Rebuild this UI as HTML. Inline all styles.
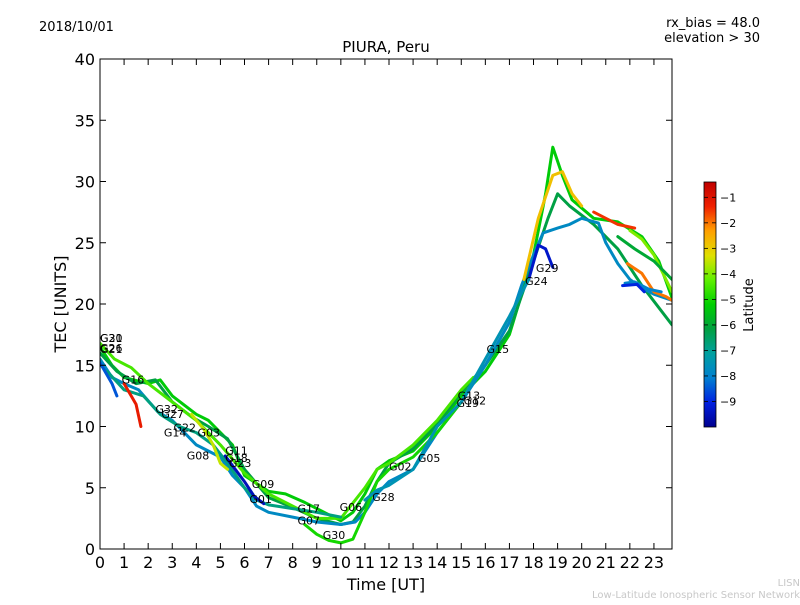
<!DOCTYPE html>
<html><head><meta charset="utf-8">
<style>
body{margin:0;background:#fff;font-family:"Liberation Sans","DejaVu Sans",sans-serif;}
svg text{font-family:"DejaVu Sans","Liberation Sans",sans-serif;}
</style></head>
<body>
<svg id="chart" width="800" height="600" xmlns="http://www.w3.org/2000/svg">
<defs>
<linearGradient id="cmap" x1="0" y1="1" x2="0" y2="0">
<stop offset="0" stop-color="#00008f"/>
<stop offset="0.1" stop-color="#0020e0"/>
<stop offset="0.2" stop-color="#0080d0"/>
<stop offset="0.3" stop-color="#00a0a0"/>
<stop offset="0.4" stop-color="#00a040"/>
<stop offset="0.5" stop-color="#00d000"/>
<stop offset="0.6" stop-color="#60f000"/>
<stop offset="0.7" stop-color="#e0e000"/>
<stop offset="0.8" stop-color="#ffa000"/>
<stop offset="0.9" stop-color="#f02000"/>
<stop offset="1" stop-color="#c00000"/>
</linearGradient>
<clipPath id="plotclip"><rect x="100" y="59" width="572" height="490"/></clipPath>
</defs>
<text x="39" y="31" font-size="13">2018/10/01</text>
<text x="760" y="27" font-size="13" text-anchor="end">rx_bias = 48.0</text>
<text x="760" y="42" font-size="13" text-anchor="end">elevation &gt; 30</text>
<text x="386" y="52" font-size="15" text-anchor="middle">PIURA, Peru</text>
<rect x="100" y="59" width="572" height="490" fill="#fff"/>
<g id="tracks" clip-path="url(#plotclip)"></g>
<g id="labels"></g>
<rect x="100" y="59" width="572" height="490" fill="none" stroke="#000" stroke-width="1"/>
<g id="axes"></g>
<text x="386" y="590" font-size="16" text-anchor="middle">Time [UT]</text>
<text transform="translate(66,304) rotate(-90)" font-size="16" text-anchor="middle">TEC [UNITS]</text>
<rect x="704" y="182" width="12" height="245" fill="url(#cmap)" stroke="#000" stroke-width="0.8"/>
<g id="cbticks"></g>
<text transform="translate(753,305) rotate(-90)" font-size="13" text-anchor="middle">Latitude</text>
<text x="800" y="586" font-size="10" fill="#c8c8c8" text-anchor="end">LISN</text>
<text x="800" y="598" font-size="10" fill="#c8c8c8" text-anchor="end">Low-Latitude Ionospheric Sensor Network</text>
</svg>
<script>
const xTicks=[0,1,2,3,4,5,6,7,8,9,10,11,12,13,14,15,16,17,18,19,20,21,22,23];
const yTicks=[0,5,10,15,20,25,30,35,40];
const cbTicks=[-1,-2,-3,-4,-5,-6,-7,-8,-9];
const trackLat=[-5.3,-6.2,-7.8,-9.3,-2.8,-1.5,-4.5,-6.8,-8.5,-9.5,-5.0,-3.5,-1.2,-7.5,-4.0,-6.0,-2.0,-8.0,-9.0];
const trackPts=[
[[0,16.5],[0.5,15],[1,14],[2,13.5],[2.5,13.8],[3,12.5],[4,11],[4.5,10.5],[5,9.5],[5.5,8.5],[6,6],[7,4.7],[7.7,4.5],[8.5,3.8],[9.5,2.8],[10,2.3],[10.5,3],[11,4.5],[11.5,6.5],[12,7.2],[13,8],[14,10],[15,12.5],[16,14.5],[17,17.5],[18,24],[18.5,29],[18.8,32.8],[19.2,30.5],[19.6,28.5],[20.5,27],[21.5,26.7],[22.5,25.5],[23.2,23.5],[23.75,20.5]],
[[0,16],[0.7,14.5],[1.5,13.5],[2.3,13.8],[3,12],[3.8,10.8],[4.5,10],[5.3,9],[6,6.5],[7,4.2],[8,3.4],[9,2.5],[10,2],[10.5,2.2],[11,3.5],[11.5,5.5],[12,7],[13,8.2],[14,10.2],[15,12.8],[16,15],[17,17.8],[18,23.5],[18.6,27],[19,29],[19.5,28],[20.5,26.5],[21.5,24.5],[22.5,21.5],[23.75,18.3]],
[[0,15.5],[0.5,14],[1,13.5],[1.6,13],[2.4,11.2],[3,10.5],[3.5,9.5],[4,8.5],[5,7.5],[5.5,6],[6,5],[6.5,3.5],[7,3],[8,2.6],[9,2.2],[10,2],[10.6,2.2],[11,3],[11.5,4.5],[12,5.5],[13,6.5],[14,9.5],[15,12],[16,15],[17,18.5],[17.5,21.5],[18,24],[18.4,25.8],[19,26.2],[19.5,26.5],[20,27],[20.7,26.6],[21,25],[21.5,23.3],[22,22],[22.5,21.3],[23,20.8],[23.75,20.3]],
[[17.8,22],[18.2,24.8],[18.5,24.5],[18.8,23]],
[[17.6,22],[18.2,27],[18.8,30.5],[19.2,30.8],[19.6,29],[20,28]],
[[20.5,27.5],[21,27],[21.5,26.5],[22.2,26.2]],
[[0,16.8],[0.6,15.5],[1.3,14.8],[2,13.5],[3,12],[4,10.5],[5,8.5],[6,6.2],[7,4.5],[8,3.5],[9,2.5],[10,2.5],[11,5],[11.5,6.5],[12,7],[13,8.5],[14,10.5],[15,13],[15.5,14]],
[[0.3,14.5],[1,13],[1.8,12.5],[2.5,11],[3.3,10],[4,9.5],[4.7,8.5],[5.3,7],[6,5],[6.5,4],[7,3.6],[8,3.3],[9,3],[10,2.6]],
[[0,15.2],[0.5,13.5],[0.7,12.5]],
[[5.2,7.6],[5.5,6.8],[6,5.5],[6.4,4.3],[6.8,3.7]],
[[8.5,2],[9,1.2],[9.5,0.7],[10,0.5],[10.5,0.8],[11,3],[11.5,5.5],[12,6.5],[13,7.5],[14,9.5],[15,12]],
[[3.8,11],[4.3,9.8],[4.7,8.5],[5,7],[5.3,6.5]],
[[1,13.5],[1.5,11.8],[1.7,10]],
[[11,4],[11.5,4.8],[12,5.2],[13,6.5],[14,10],[15,12],[16,15.5],[17,19],[17.8,22]],
[[22,26],[22.5,25.3],[23,24],[23.5,22],[23.75,21]],
[[21.5,25.5],[22.2,24.5],[23,23.5],[23.75,22]],
[[21.9,23.3],[22.5,22.5],[23,21],[23.5,20.6],[23.75,20.3]],
[[21.8,21.7],[22.2,21.8],[22.8,21.2],[23.3,21]],
[[21.7,21.5],[22.3,21.6],[22.6,21]]
];
const labelNames=["G20","G31","G26","G21","G16","G32","G27","G22","G14","G03","G08","G11","G18","G23","G09","G01","G17","G07","G06","G30","G28","G02","G05","G13","G19","G12","G15","G24","G29"];
const labelT=[0,0,0,0,0.9,2.3,2.55,3.05,2.65,4.05,3.6,5.2,5.2,5.35,6.3,6.2,8.2,8.2,9.95,9.25,11.3,12.0,13.2,14.85,14.8,15.1,16.05,17.65,18.1];
const labelV=[16.9,16.9,16.1,16.0,13.5,11.1,10.7,9.6,9.2,9.2,7.3,7.7,7.1,6.7,5.0,3.75,3.0,2.0,3.1,0.8,3.9,6.4,7.1,12.2,11.6,11.8,16.0,21.55,22.6];

const NS='http://www.w3.org/2000/svg';
const X=t=>100+t*572/23.75;
const Y=v=>549-v*490/40;
const CB=l=>427-(l+10)*245/9.6;
const stops=[[0,[0,0,143]],[0.1,[0,32,224]],[0.2,[0,128,208]],[0.3,[0,160,160]],[0.4,[0,160,64]],[0.5,[0,208,0]],[0.6,[96,240,0]],[0.7,[224,224,0]],[0.8,[255,160,0]],[0.9,[240,32,0]],[1,[192,0,0]]];
function cmap(l){let f=(l+10)/9.6;f=Math.max(0,Math.min(1,f));for(let i=1;i<stops.length;i++){if(f<=stops[i][0]){const a=stops[i-1],b=stops[i];const u=(f-a[0])/(b[0]-a[0]);const c=a[1].map((x,k)=>Math.round(x+(b[1][k]-x)*u));return 'rgb('+c.join(',')+')';}}return 'rgb(192,0,0)';}
function mk(tag,at,parent){const e=document.createElementNS(NS,tag);for(const k in at)e.setAttribute(k,at[k]);parent.appendChild(e);return e;}
const tg=document.getElementById('tracks');
trackPts.forEach((pts,i)=>{
  const p=mk('polyline',{points:pts.map(q=>X(q[0]).toFixed(1)+','+Y(q[1]).toFixed(1)).join(' '),fill:'none',stroke:cmap(trackLat[i]),'stroke-width':3,'stroke-linejoin':'round','stroke-linecap':'round'},tg);
  
  
});
const lg=document.getElementById('labels');
labelNames.forEach((n,i)=>{
  const t=mk('text',{x:X(labelT[i]),y:Y(labelV[i]),'font-size':11},lg);
  t.textContent=n;
  
  
});
const ax=document.getElementById('axes');
xTicks.forEach(t=>{
  const x=X(t);
  const l=mk('line',{x1:x,x2:x,y1:549,y2:543,stroke:'#000'},ax);
  
  
  mk('line',{x1:x,x2:x,y1:59,y2:65,stroke:'#000'},ax);
  const tx=mk('text',{x:x,y:568,'font-size':16,'text-anchor':'middle'},ax);
  tx.textContent=t;
  
  
});
yTicks.forEach(v=>{
  const y=Y(v);
  const l=mk('line',{x1:100,x2:106,y1:y,y2:y,stroke:'#000'},ax);
  
  
  mk('line',{x1:672,x2:666,y1:y,y2:y,stroke:'#000'},ax);
  const tx=mk('text',{x:95,y:y+6,'font-size':16,'text-anchor':'end'},ax);
  tx.textContent=v;
  
  
});
const cg=document.getElementById('cbticks');
cbTicks.forEach(v=>{
  const y=CB(v);
  mk('line',{x1:704,x2:708,y1:y,y2:y,stroke:'#000','stroke-width':0.8},cg);
  mk('line',{x1:716,x2:712,y1:y,y2:y,stroke:'#000','stroke-width':0.8},cg);
  const tx=mk('text',{x:720,y:y+4,'font-size':11},cg);
  tx.textContent='\u2212'+Math.abs(v);
  
  
});
</script>
</body></html>
